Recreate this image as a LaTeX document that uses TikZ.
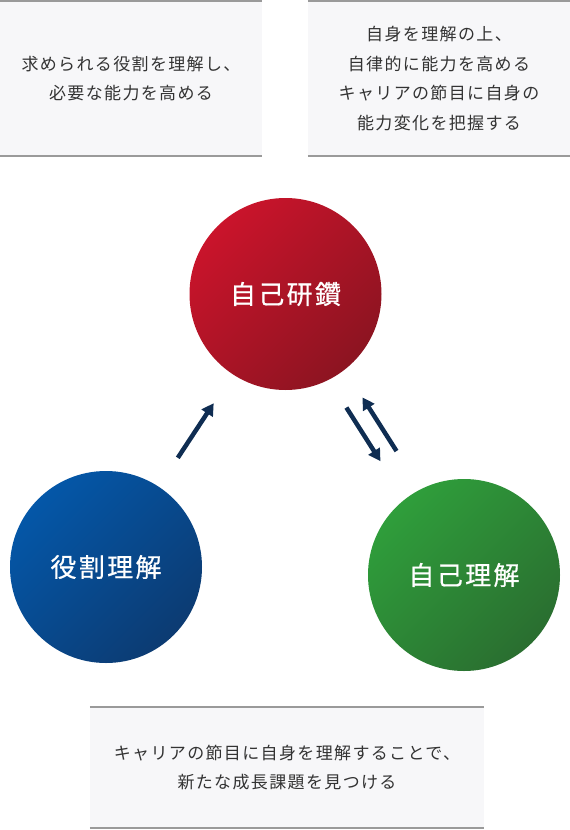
\documentclass[tikz,border=0pt]{standalone}
\usepackage{fontspec}
\setmainfont{Noto Sans CJK JP}
\newfontfamily\jpnote[LetterSpace=8]{Noto Sans CJK JP}
\newfontfamily\jpball[LetterSpace=9,FakeBold=0.6]{Noto Sans CJK JP}
\usepackage{xcolor}
\usetikzlibrary{arrows.meta,calc}

\definecolor{notebg}{HTML}{F7F7F9}
\definecolor{notetext}{HTML}{333333}
\definecolor{rulegray}{HTML}{9A9A9A}
\definecolor{flowblue}{HTML}{0F2D52}
\definecolor{redA}{HTML}{CA142B}
\definecolor{redB}{HTML}{8C1421}
\definecolor{blueA}{HTML}{0457A8}
\definecolor{blueB}{HTML}{0C3B72}
\definecolor{greenA}{HTML}{2F9E3B}
\definecolor{greenB}{HTML}{2A6E30}

\begin{document}
\begin{tikzpicture}[x=1pt, y=-1pt,
  note/.style={fill=notebg, text=notetext, align=center, inner sep=0pt,
    font=\fontsize{17}{29.5}\jpnote},
  rule/.style={draw=rulegray, line width=2.5pt},
  ball/.style={circle, minimum size=192pt, inner sep=0pt, text=white,
    font=\fontsize{26}{30}\jpball},
  flow/.style={draw=flowblue, line width=4.5pt, -{Triangle[length=12pt,width=13pt]}}]
\useasboundingbox (0,0) rectangle (570,830);

% notes
\node[note, minimum width=262pt, minimum height=154.5pt] (roleNote) at (131,78.5)
  {求められる役割を理解し、\\必要な能力を高める};
\node[note, minimum width=262pt, minimum height=154.5pt] (devNote) at (439,78.5)
  {自身を理解の上、\\自律的に能力を高める\\キャリアの節目に自身の\\能力変化を把握する};
\node[note, minimum width=394pt, minimum height=121pt] (selfNote) at (287,767.5)
  {キャリアの節目に自身を理解することで、\\新たな成長課題を見つける};

\draw[rule] (roleNote.north west) -- (roleNote.north east);
\draw[rule] (roleNote.south west) -- (roleNote.south east);
\draw[rule] (devNote.north west) -- (devNote.north east);
\draw[rule] (devNote.south west) -- (devNote.south east);
\draw[rule] (selfNote.north west) -- (selfNote.north east);
\draw[rule] (selfNote.south west) -- (selfNote.south east);

% circles
\node[ball, top color=redA, bottom color=redB, shading angle=45] (dev) at (285.5,294) {自己研鑽};
\node[ball, top color=blueA, bottom color=blueB, shading angle=45] (role) at (106,567) {役割理解};
\node[ball, top color=greenA, bottom color=greenB, shading angle=45] (self) at (464,575) {自己理解};

% arrows
\draw[flow] ($(role)!0.40!(dev)$) -- ($(role)!0.60!(dev)$);
\draw[flow] ($(dev)!0.386!(self)!9.5pt!-90:(self)$) -- ($(dev)!0.577!(self)!9.5pt!-90:(self)$);
\draw[flow] ($(dev)!0.577!(self)!9.5pt!90:(self)$) -- ($(dev)!0.386!(self)!9.5pt!90:(self)$);
\end{tikzpicture}
\end{document}
